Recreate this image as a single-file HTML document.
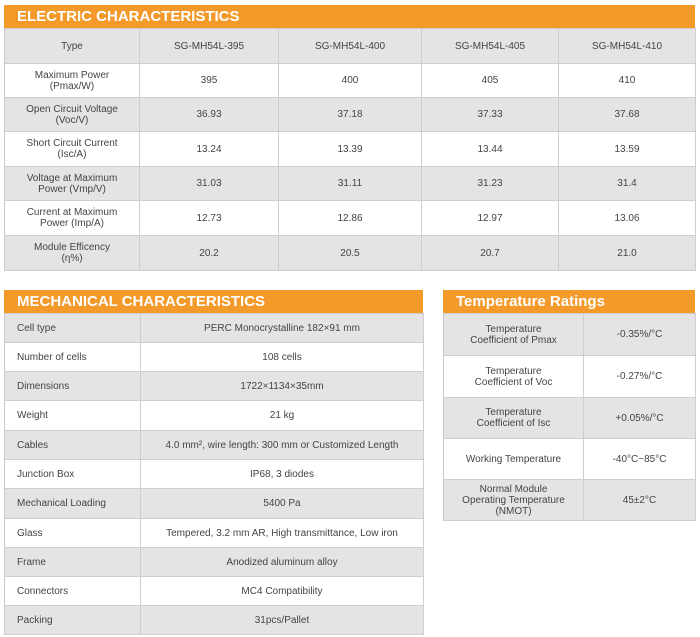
<!DOCTYPE html>
<html><head><meta charset="utf-8"><style>
*{margin:0;padding:0;box-sizing:border-box}
body{width:700px;height:637px;background:#fff;position:relative;overflow:hidden;font-family:"Liberation Sans",sans-serif;color:#444}
.hdr{position:absolute;background:#f39a2b;color:#fff;font-weight:bold;font-size:15px;line-height:23px;padding-left:13px}
table{position:absolute;border-collapse:collapse;table-layout:fixed;font-size:10px;border:1px solid #c8c8c8}
td{border:1px solid #cfcfcf;border-left:1px solid #c8c8c8;text-align:center;line-height:11px;color:#444;padding:0}
tr.g td{background:#e4e4e4}
tr.w td{background:#fff}
.m td:first-child{text-align:left;padding-left:12px}
</style></head><body>
<div class="hdr" style="left:4px;top:5px;width:691px;height:23px">ELECTRIC CHARACTERISTICS</div>
<table style="left:4px;top:28px;width:691px">
<colgroup><col style="width:135px"><col style="width:139px"><col style="width:143px"><col style="width:137px"><col style="width:137px"></colgroup>
<tr class="g" style="height:35px"><td>Type</td><td>SG-MH54L-395</td><td>SG-MH54L-400</td><td>SG-MH54L-405</td><td>SG-MH54L-410</td></tr>
<tr class="w" style="height:34px"><td>Maximum Power<br>(Pmax/W)</td><td>395</td><td>400</td><td>405</td><td>410</td></tr>
<tr class="g" style="height:34px"><td>Open Circuit Voltage<br>(Voc/V)</td><td>36.93</td><td>37.18</td><td>37.33</td><td>37.68</td></tr>
<tr class="w" style="height:35px"><td>Short Circuit Current<br>(Isc/A)</td><td>13.24</td><td>13.39</td><td>13.44</td><td>13.59</td></tr>
<tr class="g" style="height:34px"><td>Voltage at Maximum<br>Power (Vmp/V)</td><td>31.03</td><td>31.11</td><td>31.23</td><td>31.4</td></tr>
<tr class="w" style="height:35px"><td>Current at Maximum<br>Power (Imp/A)</td><td>12.73</td><td>12.86</td><td>12.97</td><td>13.06</td></tr>
<tr class="g" style="height:35px"><td>Module Efficency<br>(η%)</td><td>20.2</td><td>20.5</td><td>20.7</td><td>21.0</td></tr>
</table>

<div class="hdr" style="left:4px;top:290px;width:419px;height:23px">MECHANICAL CHARACTERISTICS</div>
<table class="m" style="left:4px;top:313px;width:419px">
<colgroup><col style="width:136px"><col style="width:283px"></colgroup>
<tr class="g" style="height:29px"><td>Cell type</td><td>PERC Monocrystalline 182×91 mm</td></tr>
<tr class="w" style="height:29px"><td>Number of cells</td><td>108 cells</td></tr>
<tr class="g" style="height:29px"><td>Dimensions</td><td>1722×1134×35mm</td></tr>
<tr class="w" style="height:30px"><td>Weight</td><td>21 kg</td></tr>
<tr class="g" style="height:29px"><td>Cables</td><td>4.0 mm², wire length: 300 mm or Customized Length</td></tr>
<tr class="w" style="height:29px"><td>Junction Box</td><td>IP68, 3 diodes</td></tr>
<tr class="g" style="height:30px"><td>Mechanical Loading</td><td>5400 Pa</td></tr>
<tr class="w" style="height:29px"><td>Glass</td><td>Tempered, 3.2 mm AR, High transmittance, Low iron</td></tr>
<tr class="g" style="height:29px"><td>Frame</td><td>Anodized aluminum alloy</td></tr>
<tr class="w" style="height:29px"><td>Connectors</td><td>MC4 Compatibility</td></tr>
<tr class="g" style="height:29px"><td>Packing</td><td>31pcs/Pallet</td></tr>
</table>

<div class="hdr" style="left:443px;top:290px;width:252px;height:23px">Temperature Ratings</div>
<table style="left:443px;top:313px;width:252px">
<colgroup><col style="width:140px"><col style="width:112px"></colgroup>
<tr class="g" style="height:42px"><td>Temperature<br>Coefficient of Pmax</td><td>-0.35%/°C</td></tr>
<tr class="w" style="height:42px"><td>Temperature<br>Coefficient of Voc</td><td>-0.27%/°C</td></tr>
<tr class="g" style="height:41px"><td>Temperature<br>Coefficient of Isc</td><td>+0.05%/°C</td></tr>
<tr class="w" style="height:41px"><td>Working Temperature</td><td>-40°C~85°C</td></tr>
<tr class="g" style="height:41px"><td>Normal Module<br>Operating Temperature<br>(NMOT)</td><td>45±2°C</td></tr>
</table>
</body></html>
